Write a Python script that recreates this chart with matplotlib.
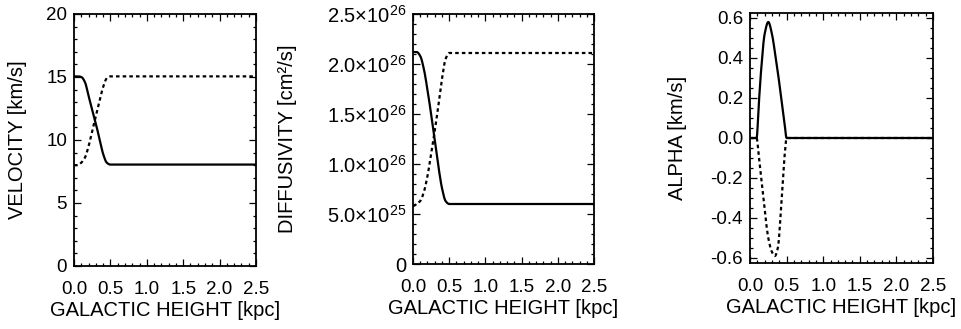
import numpy as np
import matplotlib
matplotlib.use('Agg')
import matplotlib.pyplot as plt
from matplotlib.ticker import MultipleLocator, FuncFormatter

# galactic height grid [kpc]
z = [0.0, 0.05, 0.1, 0.15, 0.2, 0.25, 0.3, 0.35, 0.4, 0.45, 0.5, 2.5]

vel_solid = [15.05, 15.05, 15.0, 14.6, 13.5, 12.4, 11.3, 10.1, 8.9, 8.2, 8.05, 8.05]
vel_dashed = [8.0, 8.0, 8.2, 8.6, 9.5, 10.7, 11.9, 13.1, 14.2, 14.9, 15.05, 15.05]

diff_solid = [2.12e26, 2.12e26, 2.08e26, 1.95e26, 1.74e26, 1.50e26, 1.24e26, 0.98e26,
              0.76e26, 0.63e26, 0.60e26, 0.60e26]
diff_dashed = [0.58e26, 0.60e26, 0.63e26, 0.72e26, 0.88e26, 1.10e26, 1.33e26, 1.58e26,
               1.85e26, 2.05e26, 2.11e26, 2.11e26]

z_alpha = [0.0, 0.05, 0.09, 0.12, 0.15, 0.2, 0.25, 0.3, 0.34, 0.38, 0.43, 0.47, 0.5, 2.5]
alpha_solid = [0.0, 0.0, 0.0, 0.17, 0.33, 0.52, 0.58, 0.52, 0.43, 0.33, 0.19, 0.08, 0.0, 0.0]
alpha_dashed = [0.0, 0.0, 0.0, -0.09, -0.19, -0.36, -0.50, -0.57, -0.59, -0.55, -0.32, -0.10, 0.0, 0.0]

xticks = [0.0, 0.5, 1.0, 1.5, 2.0, 2.5]

plt.rcParams['font.family'] = ['Liberation Sans', 'DejaVu Sans']
plt.rcParams['mathtext.default'] = 'regular'
plt.rcParams['font.size'] = 13.5

W, H = 962, 329
fig = plt.figure(figsize=(W / 100, H / 100), dpi=100)


def make_axes(left, right, top, bottom):
    return fig.add_axes([left / W, 1 - bottom / H, (right - left) / W, (bottom - top) / H])


def style(ax, ymajor, yminor):
    ax.set_xlim(0, 2.5)
    ax.set_xticks(xticks)
    ax.set_xticklabels(['%.1f' % t for t in xticks])
    ax.xaxis.set_minor_locator(MultipleLocator(0.1))
    ax.yaxis.set_major_locator(MultipleLocator(ymajor))
    ax.yaxis.set_minor_locator(MultipleLocator(yminor))
    ax.tick_params(which='both', direction='in', top=True, right=True, width=0.9)
    ax.tick_params(which='major', length=5, pad=5)
    ax.tick_params(which='minor', length=2.5)
    ax.tick_params(axis='x', which='major', pad=11)
    for s in ax.spines.values():
        s.set_linewidth(1.3)
    ax.set_xlabel('GALACTIC HEIGHT [kpc]', fontsize=14.5, labelpad=2)


def smooth(x, y):
    # monotone cubic (Fritsch-Carlson) through the read points
    x = np.asarray(x, float)
    y = np.asarray(y, float)
    h = np.diff(x)
    d = np.diff(y) / h
    m = np.zeros_like(y)
    for i in range(1, len(y) - 1):
        if d[i - 1] * d[i] > 0:
            w1 = 2 * h[i] + h[i - 1]
            w2 = h[i] + 2 * h[i - 1]
            m[i] = (w1 + w2) / (w1 / d[i - 1] + w2 / d[i])
    xs = np.linspace(0, 2.5, 3001)
    k = np.clip(np.searchsorted(x, xs) - 1, 0, len(x) - 2)
    t = (xs - x[k]) / h[k]
    h00 = 2 * t ** 3 - 3 * t ** 2 + 1
    h10 = t ** 3 - 2 * t ** 2 + t
    h01 = -2 * t ** 3 + 3 * t ** 2
    h11 = t ** 3 - t ** 2
    ys = h00 * y[k] + h10 * h[k] * m[k] + h01 * y[k + 1] + h11 * h[k] * m[k + 1]
    return xs, ys


dash = (0, (1.6, 1.4))
LW = 1.6

ax1 = make_axes(74, 256, 14, 266)
ax1.plot(*smooth(z, vel_solid), 'k-', lw=LW)
ax1.plot(*smooth(z, vel_dashed), color='k', ls=dash, lw=LW)
ax1.set_ylim(0, 20)
style(ax1, 5, 1)
ax1.set_ylabel('VELOCITY [km/s]', fontsize=14.5, labelpad=14)

ax2 = make_axes(413, 594, 14, 264)
ax2.plot(*smooth(z, diff_solid), 'k-', lw=LW)
ax2.plot(*smooth(z, diff_dashed), color='k', ls=dash, lw=LW)
ax2.set_ylim(0, 2.5e26)
style(ax2, 0.5e26, 0.1e26)


def sci(v, pos):
    if abs(v) < 1e20:
        return '0'
    e = int(np.floor(np.log10(abs(v)) + 1e-9))
    return r'%.1f$\times$10$^{%d}$' % (v / 10 ** e, e)


ax2.yaxis.set_major_formatter(FuncFormatter(sci))
ax2.tick_params(axis='y', which='major', labelsize=14.5)
ax2.set_ylabel('DIFFUSIVITY [cm²/s]', fontsize=14.5, labelpad=21)

ax3 = make_axes(750, 933, 13, 263)
ax3.plot(*smooth(z_alpha, alpha_dashed), color='k', ls=dash, lw=LW)
ax3.plot(*smooth(z_alpha, alpha_solid), 'k-', lw=LW)
ax3.set_ylim(-0.625, 0.625)
style(ax3, 0.2, 0.05)
ax3.yaxis.set_major_formatter(FuncFormatter(lambda v, p: '%.1f' % v if abs(v) > 1e-9 else '0.0'))
ax3.set_ylabel('ALPHA [km/s]', fontsize=14.5, labelpad=17)

fig.savefig('out.png', dpi=100)
